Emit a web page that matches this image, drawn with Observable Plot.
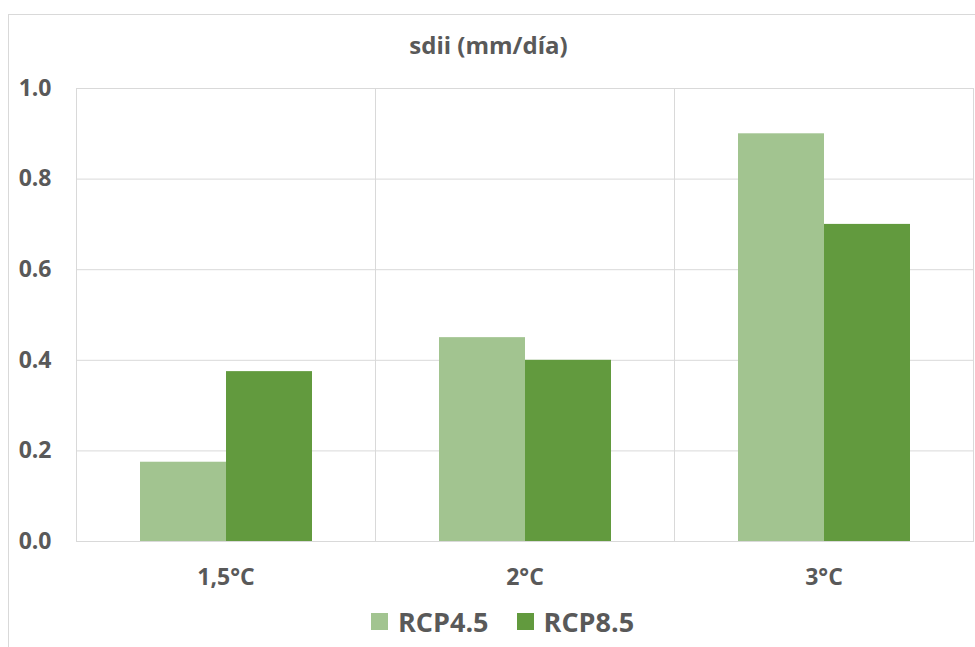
<!DOCTYPE html>
<html>
<head>
<meta charset="utf-8">
<script src="https://cdn.jsdelivr.net/npm/d3@7"></script>
<script src="https://cdn.jsdelivr.net/npm/@observablehq/plot@0.6"></script>
<style>
  body { margin: 0; background: #fff; font-family: "Open Sans", sans-serif; color: #595959; }
  #page { position: relative; width: 975px; height: 647px; overflow: hidden; }
  #box { position: absolute; left: 8px; top: 14px; width: 2000px; height: 2000px;
         border-left: 1px solid #d9d9d9; border-top: 1px solid #d9d9d9; }
  #title { position: absolute; left: 1px; top: 33px; width: 975px; text-align: center;
           font-size: 24px; line-height: 1; font-weight: 700; }
  #chart { position: absolute; left: 0; top: 60px; }
  #legend { position: absolute; left: 371px; top: 608px; display: flex; align-items: center;
            font-size: 27px; line-height: 27px; font-weight: 700; }
  #legend .sw { width: 17px; height: 17px; margin-right: 10px; }
  #legend .item { display: flex; align-items: center; margin-right: 28px; }
</style>
</head>
<body>
<div id="page">
  <div id="box"></div>
  <div id="title">sdii (mm/día)</div>
  <div id="chart"></div>
  <div id="legend"></div>
</div>
<script>
// Warming levels and the two emission scenarios
const scenarios = ["1,5°C", "2°C", "3°C"];
const series = ["RCP4.5", "RCP8.5"];
// Change in simple daily intensity index (mm/day)
const rcp45 = [0.175, 0.45, 0.90];
const rcp85 = [0.375, 0.40, 0.70];
const colors = ["#a2c490", "#629a3e"];
const yTicks = [0, 0.2, 0.4, 0.6, 0.8, 1.0];

const rows = scenarios.flatMap((s, i) => [
  {scenario: s, series: series[0], value: rcp45[i]},
  {scenario: s, series: series[1], value: rcp85[i]}
]);

const chart = Plot.plot({
  width: 975,
  height: 531,
  marginTop: 28,
  marginBottom: 50,
  marginLeft: 76,
  marginRight: 2,
  style: {
    fontFamily: "'Open Sans', sans-serif",
    fontSize: "23px",
    fontWeight: "bold",
    color: "#595959",
    background: "transparent",
    overflow: "visible"
  },
  facet: {data: rows, x: "scenario"},
  fx: {domain: scenarios, padding: 0, label: null, axis: "bottom", tickSize: 0, tickPadding: 27},
  x: {domain: series, axis: null, paddingInner: 0, paddingOuter: 0.738},
  y: {domain: [0, 1], ticks: yTicks, tickFormat: d => d.toFixed(1), tickSize: 0, tickPadding: 25, label: null},
  color: {domain: series, range: colors},
  marks: [
    Plot.ruleY(yTicks.slice(1, -1), {stroke: "#d9d9d9"}),
    Plot.frame({stroke: "#d9d9d9"}),
    Plot.barY(rows, {x: "series", y: "value", fill: "series"})
  ]
});
document.getElementById("chart").appendChild(chart);

// Legend below the chart
const legend = document.getElementById("legend");
series.forEach((name, i) => {
  const item = document.createElement("div");
  item.className = "item";
  const sw = document.createElement("div");
  sw.className = "sw";
  sw.style.background = colors[i];
  const label = document.createElement("span");
  label.textContent = name;
  item.appendChild(sw);
  item.appendChild(label);
  legend.appendChild(item);
});
</script>
</body>
</html>
